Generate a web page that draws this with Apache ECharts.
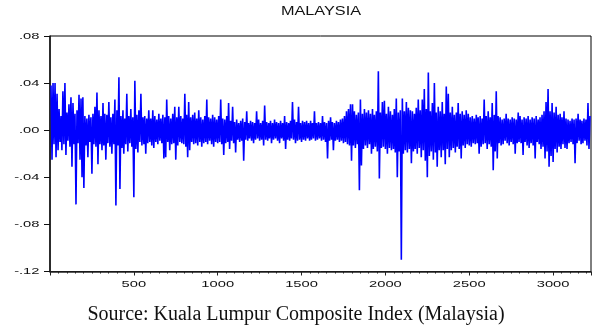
<!DOCTYPE html>
<html>
<head>
<meta charset="utf-8">
<script src="https://cdn.jsdelivr.net/npm/echarts@6/dist/echarts.min.js"></script>
<style>
html,body{margin:0;padding:0;background:#fff;}
#chart{width:595px;height:330px;}
</style>
</head>
<body>
<div id="chart"></div>
<script>
const returns = [
.038,-.025,.040,-.012,.040,-.023,.031,-.017,.018,-.010,
.012,-.017,.033,-.012,.040,-.021,.015,-.009,.022,-.014,
.028,-.031,.023,-.012,.014,-.063,.017,-.011,.030,-.025,
.027,-.040,.028,-.049,.012,-.013,.010,-.023,.013,-.010,
.011,-.037,.014,-.012,.020,-.014,.032,-.029,.017,-.012,
.012,-.017,.023,-.013,.014,-.025,.013,-.011,.024,-.014,
.011,-.020,.014,-.012,.026,-.064,.017,-.013,.045,-.050,
.012,-.015,.017,-.020,.010,-.012,.031,-.018,.012,-.011,
.018,-.014,.011,-.057,.042,-.016,.013,-.019,.017,-.010,
.031,-.013,.011,-.012,.012,-.020,.010,-.011,.017,-.010,
.010,-.013,.017,-.015,.012,-.010,.009,-.012,.014,-.009,
.010,-.011,.013,-.024,.011,-.023,.026,-.010,.012,-.017,
.010,-.012,.014,-.011,.020,-.025,.011,-.013,.020,-.010,
.012,-.011,.010,-.012,.031,-.014,.013,-.023,.024,-.017,
.011,-.010,.013,-.012,.015,-.011,.010,-.013,.017,-.010,
.011,-.014,.009,-.011,.012,-.010,.026,-.012,.011,-.009,
.010,-.012,.013,-.014,.011,-.010,.009,-.011,.012,-.010,
.026,-.012,.010,-.021,.009,-.011,.012,-.010,.023,-.016,
.008,-.009,.020,-.011,.007,-.019,.009,-.008,.006,-.010,
.008,-.009,.010,-.026,.007,-.008,.016,-.009,.006,-.007,
.008,-.009,.007,-.011,.006,-.008,.016,-.007,.009,-.009,
.006,-.008,.008,-.013,.021,-.008,.007,-.009,.006,-.007,
.008,-.011,.006,-.008,.009,-.007,.007,-.009,.006,-.011,
.008,-.007,.006,-.009,.012,-.016,.007,-.008,.006,-.009,
.008,-.007,.024,-.008,.009,-.011,.007,-.009,.020,-.008,
.006,-.010,.008,-.008,.007,-.009,.008,-.007,.006,-.009,
.008,-.008,.006,-.007,.016,-.009,.006,-.008,.007,-.007,
.006,-.009,.012,-.008,.007,-.010,.006,-.024,.008,-.009,
.011,-.008,.007,-.017,.006,-.009,.008,-.008,.007,-.010,
.009,-.009,.010,-.011,.012,-.010,.016,-.012,.018,-.013,
.022,-.026,.022,-.013,.016,-.015,.013,-.012,.015,-.051,
.026,-.030,.014,-.016,.018,-.013,.015,-.015,.017,-.012,
.014,-.020,.018,-.016,.013,-.014,.016,-.018,.050,-.041,
.015,-.015,.024,-.014,.025,-.016,.014,-.020,.020,-.015,
.016,-.017,.013,-.016,.018,-.019,.027,-.040,.015,-.018,
.017,-.110,.027,-.020,.016,-.017,.024,-.019,.019,-.016,
.017,-.028,.016,-.018,.014,-.016,.019,-.020,.026,-.015,
.017,-.023,.026,-.017,.035,-.026,.018,-.040,.049,-.022,
.016,-.018,.023,-.025,.040,-.019,.015,-.031,.020,-.017,
.016,-.023,.024,-.017,.014,-.029,.037,-.016,.031,-.023,
.015,-.017,.020,-.015,.013,-.019,.015,-.014,.023,-.016,
.014,-.024,.016,-.013,.013,-.015,.017,-.012,.014,-.013,
.011,-.014,.012,-.011,.010,-.012,.013,-.011,.011,-.020,
.012,-.014,.010,-.012,.026,-.011,.012,-.016,.016,-.012,
.011,-.014,.023,-.034,.013,-.018,.033,-.024,.012,-.011,
.011,-.013,.009,-.012,.010,-.009,.014,-.011,.010,-.013,
.009,-.010,.011,-.012,.010,-.020,.009,-.011,.015,-.010,
.012,-.011,.009,-.021,.011,-.010,.010,-.013,.012,-.015,
.009,-.011,.011,-.013,.010,-.024,.012,-.010,.009,-.012,
.011,-.016,.013,-.014,.016,-.024,.024,-.018,.035,-.031,
.016,-.022,.023,-.027,.015,-.016,.020,-.019,.013,-.014,
.014,-.016,.011,-.012,.016,-.015,.010,-.016,.009,-.011,
.008,-.010,.010,-.012,.009,-.028,.010,-.011,.014,-.009,
.009,-.012,.008,-.011,.010,-.009,.009,-.013,.023,-.016,.012
];
// observation number of each sampled point (sample spacing ~5.95 observations)
const firstObs = 6;
const obsSpacing = 5.952;
const obsIndex = returns.map((_, i) => Math.round(firstObs + i * obsSpacing));

const titleText = "MALAYSIA";
const sourceText = "Source: Kuala Lumpur Composite Index (Malaysia)";
const xTickValues = [500, 1000, 1500, 2000, 2500, 3000];
const xTickLabels = ["500", "1000", "1500", "2000", "2500", "3000"];
const yTickValues = [0.08, 0.04, 0.00, -0.04, -0.08, -0.12];
const yTickLabels = [".08", ".04", ".00", "-.04", "-.08", "-.12"];
const xMin = 0, xMax = 3226;
const yMin = -0.12, yMax = 0.08;

const chart = echarts.init(document.getElementById('chart'), null, {renderer: 'canvas'});
const seriesData = returns.map((v, i) => [obsIndex[i], v]);

chart.setOption({
  animation: false,
  backgroundColor: '#ffffff',
  grid: {left: 50, right: 4, top: 36, bottom: 58.5, show: true, borderColor: '#000', borderWidth: 1, containLabel: false},
  xAxis: {
    type: 'value', min: xMin, max: xMax, interval: 500,
    axisLine: {show: true, onZero: false, lineStyle: {color: '#222', width: 1.5}},
    axisTick: {show: true, length: 4, lineStyle: {color: '#222'}},
    minorTick: {show: true, splitNumber: 10, length: 2, lineStyle: {color: '#222'}},
    axisLabel: {show: false},
    splitLine: {show: false}
  },
  yAxis: {
    type: 'value', min: yMin, max: yMax, interval: 0.04,
    axisLine: {show: true, lineStyle: {color: '#111', width: 1.5}},
    axisTick: {show: true, length: 6, lineStyle: {color: '#111'}},
    axisLabel: {show: false},
    splitLine: {show: false}
  },
  series: [{
    type: 'line',
    data: seriesData,
    showSymbol: false,
    symbol: 'none',
    sampling: null,
    lineStyle: {color: '#0000ff', width: 1.6},
    silent: true
  }]
});

const elements = [];
yTickValues.forEach((v, i) => {
  const p = chart.convertToPixel({gridIndex: 0}, [xMin, v]);
  elements.push({
    type: 'text', x: p[0] - 10.5, y: p[1], scaleX: 1.55, scaleY: 1,
    style: {text: yTickLabels[i], font: '9.5px "Liberation Sans", Arial, sans-serif', fill: '#111',
            align: 'right', textAlign: 'right', verticalAlign: 'middle', textVerticalAlign: 'middle'}
  });
});
xTickValues.forEach((v, i) => {
  const p = chart.convertToPixel({gridIndex: 0}, [v, yMin]);
  elements.push({
    type: 'text', x: p[0], y: p[1] + 13, scaleX: 1.55, scaleY: 1,
    style: {text: xTickLabels[i], font: '9.5px "Liberation Sans", Arial, sans-serif', fill: '#111',
            align: 'center', textAlign: 'center', verticalAlign: 'middle', textVerticalAlign: 'middle'}
  });
});
elements.push({
  type: 'text', x: 321, y: 12, scaleX: 1.3, scaleY: 1,
  style: {text: titleText, font: '12.5px "Liberation Sans", Arial, sans-serif', fill: '#111',
          align: 'center', textAlign: 'center', verticalAlign: 'middle', textVerticalAlign: 'middle'}
});
elements.push({
  type: 'text', x: 296, y: 315,
  style: {text: sourceText, font: '20px "Liberation Serif", "Times New Roman", serif', fill: '#111',
          align: 'center', textAlign: 'center', verticalAlign: 'middle', textVerticalAlign: 'middle'}
});
chart.setOption({graphic: {elements: elements}});
</script>
</body>
</html>
